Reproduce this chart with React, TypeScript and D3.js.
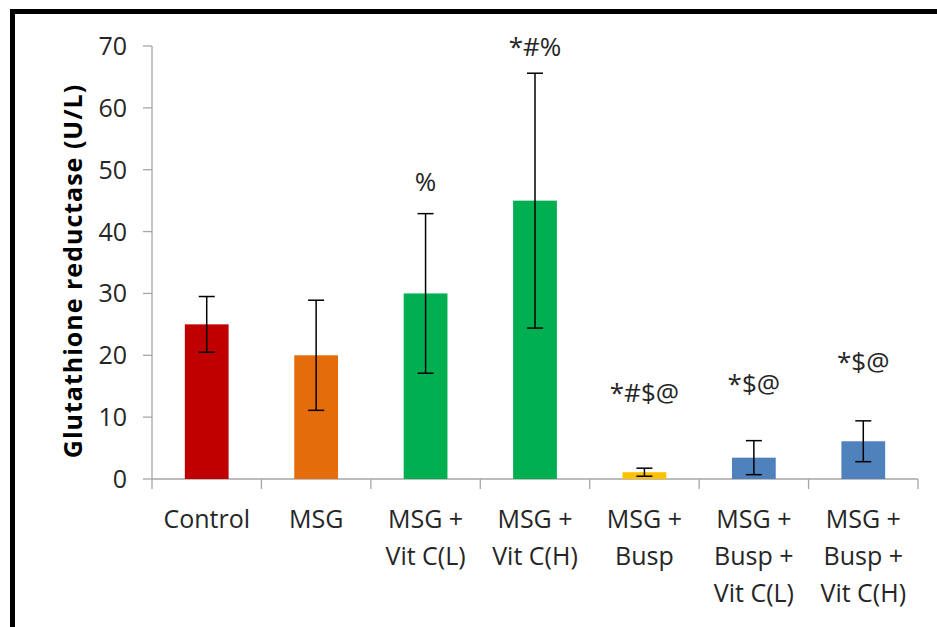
import React, { useRef, useEffect } from "react";
import * as d3 from "d3";

const categories = [
  ["Control"],
  ["MSG"],
  ["MSG +", "Vit C(L)"],
  ["MSG +", "Vit C(H)"],
  ["MSG +", "Busp"],
  ["MSG +", "Busp +", "Vit C(L)"],
  ["MSG +", "Busp +", "Vit C(H)"],
];
const means = [25, 20, 30, 45, 1.1, 3.45, 6.1];
const errors = [4.5, 8.9, 12.9, 20.6, 0.65, 2.75, 3.3];
const barColors = ["#C00000", "#E46C0A", "#00B050", "#00B050", "#FFC000", "#4F81BD", "#4F81BD"];
const marks = ["", "", "%", "*#%", "*#$@", "*$@", "*$@"];
const markLevels = [0, 0, 46.5, 68.4, 12.5, 13.9, 17.4];
const yTicks = [0, 10, 20, 30, 40, 50, 60, 70];

const FONT = "'Open Sans', sans-serif";

const App = () => {
  const ref = useRef<SVGSVGElement>(null);

  useEffect(() => {
    const svg = d3.select(ref.current);
    svg.selectAll("*").remove();

    const left = 152, right = 918, top = 46, bottom = 479;
    const idx = categories.map((_, i) => i);

    const x = d3.scaleBand<number>().domain(idx).range([left, right]).paddingInner(0.6).paddingOuter(0.3);
    const step = (right - left) / categories.length;
    const y = d3.scaleLinear().domain([0, 70]).range([bottom, top]);

    // frame
    svg.append("rect")
      .attr("x", 12.5).attr("y", 11.5)
      .attr("width", 1000).attr("height", 1000)
      .attr("fill", "none").attr("stroke", "#000").attr("stroke-width", 5);

    // y axis
    const yAxis = svg.append("g");
    yAxis.append("line")
      .attr("x1", left).attr("x2", left).attr("y1", top).attr("y2", bottom)
      .attr("stroke", "#A6A6A6").attr("stroke-width", 1.3);
    yAxis.selectAll("line.tick").data(yTicks).enter().append("line")
      .attr("x1", left - 9).attr("x2", left)
      .attr("y1", (d) => y(d)).attr("y2", (d) => y(d))
      .attr("stroke", "#A6A6A6").attr("stroke-width", 1.3);
    yAxis.selectAll("text").data(yTicks).enter().append("text")
      .attr("x", left - 25).attr("y", (d) => y(d) + 9)
      .attr("text-anchor", "end")
      .style("font-family", FONT).style("font-size", "25px").style("fill", "#262626")
      .text((d) => d);

    // x axis
    svg.append("line")
      .attr("x1", left).attr("x2", right).attr("y1", bottom).attr("y2", bottom)
      .attr("stroke", "#A6A6A6").attr("stroke-width", 1.3);
    svg.selectAll("line.xtick").data(d3.range(categories.length + 1)).enter().append("line")
      .attr("x1", (d) => left + d * step).attr("x2", (d) => left + d * step)
      .attr("y1", bottom).attr("y2", bottom + 10)
      .attr("stroke", "#A6A6A6").attr("stroke-width", 1.3);

    const cx = (i: number) => (x(i) as number) + x.bandwidth() / 2;

    // bars
    svg.selectAll("rect.bar").data(idx).enter().append("rect")
      .attr("x", (i) => x(i) as number)
      .attr("y", (i) => y(means[i]))
      .attr("width", x.bandwidth())
      .attr("height", (i) => bottom - y(means[i]))
      .attr("fill", (i) => barColors[i]);

    // error bars
    const eb = svg.append("g").attr("stroke", "#000").attr("stroke-width", 1.5);
    idx.forEach((i) => {
      const hi = y(means[i] + errors[i]);
      const lo = y(Math.max(0, means[i] - errors[i]));
      eb.append("line").attr("x1", cx(i)).attr("x2", cx(i)).attr("y1", hi).attr("y2", lo);
      eb.append("line").attr("x1", cx(i) - 8).attr("x2", cx(i) + 8).attr("y1", hi).attr("y2", hi);
      eb.append("line").attr("x1", cx(i) - 8).attr("x2", cx(i) + 8).attr("y1", lo).attr("y2", lo);
    });

    // significance marks
    svg.selectAll("text.mark").data(idx.filter((i) => marks[i])).enter().append("text")
      .attr("x", (i) => cx(i))
      .attr("y", (i) => y(markLevels[i]))
      .attr("text-anchor", "middle")
      .style("font-family", FONT).style("font-size", "26px").style("fill", "#262626")
      .text((i) => marks[i]);

    // category labels
    idx.forEach((i) => {
      const t = svg.append("text")
        .attr("text-anchor", "middle")
        .style("font-family", FONT).style("font-size", "25px").style("fill", "#262626");
      categories[i].forEach((line, k) => {
        t.append("tspan").attr("x", cx(i)).attr("y", 528 + k * 37).text(line);
      });
    });

    // y title
    svg.append("text")
      .attr("transform", `translate(82,271) rotate(-90)`)
      .attr("text-anchor", "middle")
      .style("font-family", FONT).style("font-size", "25px").style("font-weight", "bold")
      .style("letter-spacing", "1px").style("fill", "#000")
      .text("Glutathione reductase (U/L)");
  }, []);

  return (
    <svg
      ref={ref}
      width={937}
      height={627}
      style={{ position: "absolute", left: 0, top: 0, background: "#fff" }}
    />
  );
};

export default App;
